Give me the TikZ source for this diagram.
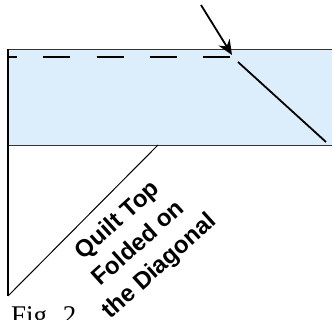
\documentclass[tikz,border=0pt]{standalone}
\usepackage{fontspec}
\setmainfont{Liberation Serif}
\newfontfamily\quiltfont{Liberation Sans}
\usetikzlibrary{arrows.meta}
\usepackage{xcolor}
\definecolor{QuiltBlue}{HTML}{DCEEFB}
\definecolor{QuiltEdge}{HTML}{333333}

\begin{document}
\begin{tikzpicture}[>={Stealth[length=15pt,width=13pt]},x=1pt,y=-1pt]
  \useasboundingbox (0,0) rectangle (332,320);
  \clip (0,0) rectangle (332,320);
  \coordinate (topleft) at (8,49);
  \coordinate (botright) at (345,145);
  \coordinate (corner) at (8,296);
  \coordinate (foldtop) at (158,145);
  \coordinate (seamend) at (231,57);
  \coordinate (tail) at (201,5);
  \coordinate (tip) at (232,55);
  \coordinate (cutstart) at (238,62);
  \coordinate (cutend) at (326,142);
  \filldraw[fill=QuiltBlue,draw=QuiltEdge,line width=0.9pt] (topleft) rectangle (botright);
  \draw[line width=1pt] (foldtop) -- (corner);
  \draw[line width=2pt] (topleft) -- (corner);
  \draw[line width=2.4pt,dash pattern=on 27pt off 26.3pt,dash phase=18pt] (8,57) -- (seamend);
  \draw[line width=1.8pt] (cutstart) -- (cutend);
  \draw[->,line width=1.8pt] (tail) -- (tip);
  \node[rotate=42,align=center,font=\quiltfont\bfseries\fontsize{24}{31}\selectfont] (quilt) at (139,244)
    {Quilt Top\\Folded on\\the Diagonal};
  \node[anchor=base west,inner sep=0pt,font=\fontsize{27}{30}\selectfont] (figlabel) at (11,324) {Fig. 2};
\end{tikzpicture}
\end{document}
